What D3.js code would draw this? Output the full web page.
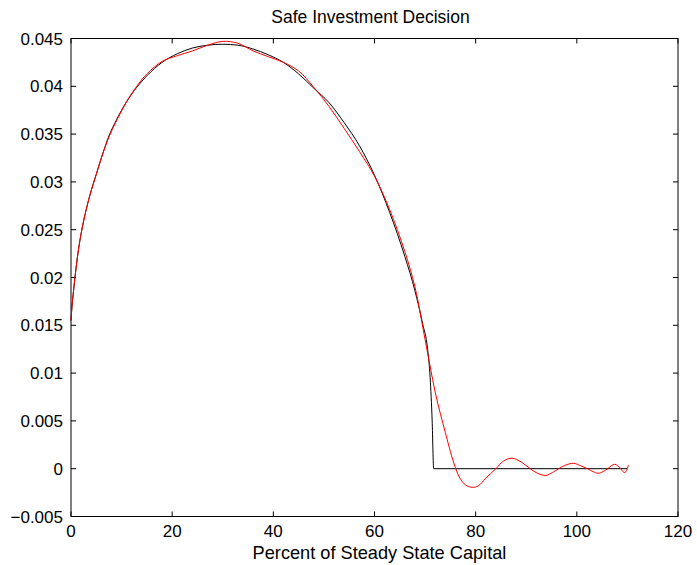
<!DOCTYPE html>
<html>
<head>
<meta charset="utf-8">
<script src="https://cdn.jsdelivr.net/npm/d3@7"></script>
<style>
  body { margin: 0; background: #fff; }
  text { font-family: "Liberation Sans", Arial, sans-serif; fill: #000; }
</style>
</head>
<body>
<div id="chart"></div>
<script>
const xTicks = [0, 20, 40, 60, 80, 100, 120];
const yTicks = [-0.005, 0, 0.005, 0.01, 0.015, 0.02, 0.025, 0.03, 0.035, 0.04, 0.045];

// smooth policy (black)
const smoothX = [0, 0.2, 0.5, 1, 1.5, 2, 3, 4, 5, 6, 7.5, 9, 11, 13, 15, 18, 21, 24, 27, 30, 33, 36, 39, 42, 45, 48, 51, 54, 57, 60, 63, 66, 68, 69.5, 70.5, 71, 71.4, 71.7, 110];
const smoothY = [0.0155, 0.0170, 0.0186, 0.0210, 0.0230, 0.0246, 0.0271, 0.0291, 0.0308, 0.0325, 0.0348, 0.0365, 0.0384, 0.0399, 0.0411, 0.0425, 0.0434, 0.0440, 0.0443, 0.0444, 0.0443, 0.0439, 0.0433, 0.0425, 0.0413, 0.0398, 0.0383, 0.0362, 0.0338, 0.0307, 0.0268, 0.0222, 0.0186, 0.0152, 0.0125, 0.0095, 0.0050, 0, 0];

// approximation (red)
const approxX = [0, 0.2, 0.5, 1, 1.5, 2, 3, 4, 5, 6, 7.5, 9, 11, 13, 15, 18, 21, 24, 27, 30, 33, 36, 39, 42, 45, 48, 51, 54, 57, 60, 63, 66, 68, 70, 71, 72, 73, 74, 75, 76, 77, 78, 79.3, 80.5, 82, 84, 85.5, 87.2, 89, 90.8, 92.3, 93.9, 95.2, 96.4, 97.9, 99.4, 100.8, 102.1, 103.2, 104.2, 105.2, 106.1, 106.8, 107.5, 108.1, 108.7, 109.1, 109.5, 109.9, 110.2];
const approxY = [0.0155, 0.0170, 0.0186, 0.0210, 0.0230, 0.0246, 0.0271, 0.0291, 0.0308, 0.0325, 0.0347, 0.0364, 0.0384, 0.0400, 0.0413, 0.0426, 0.0432, 0.0437, 0.0443, 0.0447, 0.0445, 0.0437, 0.0431, 0.0425, 0.0416, 0.0399, 0.0379, 0.0356, 0.0332, 0.0306, 0.0271, 0.0227, 0.0190, 0.0135, 0.0107, 0.0080, 0.0058, 0.0038, 0.0018, 0.0001, -0.0011, -0.0017, -0.00195, -0.0018, -0.0010, 0.0000, 0.0008, 0.0011, 0.0007, 0, -0.0005, -0.0007, -0.0004, 0, 0.0004, 0.00056, 0.0003, 0, -0.0003, -0.00048, -0.0003, 0, 0.0003, 0.00046, 0.0003, 0, -0.0003, -0.0004, -0.0001, 0.0004];

const width = 697, height = 565;
const margin = { top: 38.5, right: 19, bottom: 48.5, left: 71 };
const tickLen = 5;

const svg = d3.select("#chart").append("svg")
	.attr("width", width)
	.attr("height", height);

const x = d3.scaleLinear().domain([0, 120]).range([margin.left, width - margin.right]);
const y = d3.scaleLinear().domain([-0.005, 0.045]).range([height - margin.bottom, margin.top]);

const fmt = (d) => d === 0 ? "0" : (d < 0 ? "\u2212" + String(-d) : String(d));

// box
svg.append("rect")
	.attr("x", x(0)).attr("y", y(0.045))
	.attr("width", x(120) - x(0)).attr("height", y(-0.005) - y(0.045))
	.attr("fill", "none").attr("stroke", "#000").attr("stroke-width", 1);

const ticks = svg.append("g").attr("stroke", "#000").attr("stroke-width", 1);
xTicks.forEach((d) => {
	ticks.append("line").attr("x1", x(d)).attr("x2", x(d)).attr("y1", y(-0.005)).attr("y2", y(-0.005) - tickLen);
	ticks.append("line").attr("x1", x(d)).attr("x2", x(d)).attr("y1", y(0.045)).attr("y2", y(0.045) + tickLen);
});
yTicks.forEach((d) => {
	ticks.append("line").attr("x1", x(0)).attr("x2", x(0) + tickLen).attr("y1", y(d)).attr("y2", y(d));
	ticks.append("line").attr("x1", x(120)).attr("x2", x(120) - tickLen).attr("y1", y(d)).attr("y2", y(d));
});

svg.append("g").selectAll("text")
	.data(xTicks).enter()
	.append("text")
		.attr("x", (d) => x(d))
		.attr("y", y(-0.005) + 20)
		.attr("text-anchor", "middle")
		.attr("font-size", 17)
		.text(fmt);

svg.append("g").selectAll("text")
	.data(yTicks).enter()
	.append("text")
		.attr("x", x(0) - 8)
		.attr("y", (d) => y(d) + 6)
		.attr("text-anchor", "end")
		.attr("font-size", 17)
		.text(fmt);

svg.append("text")
	.attr("x", (x(0) + x(120)) / 2 - 4)
	.attr("y", 23)
	.attr("text-anchor", "middle")
	.attr("font-size", 17.5)
	.text("Safe Investment Decision");

svg.append("text")
	.attr("x", (x(0) + x(120)) / 2 + 5)
	.attr("y", height - 6)
	.attr("text-anchor", "middle")
	.attr("font-size", 18.2)
	.text("Percent of Steady State Capital");

const smooth = d3.line()
	.x((d, i) => x(smoothX[i]))
	.y((d) => y(d))
	.curve(d3.curveMonotoneX);

const approx = d3.line()
	.x((d, i) => x(approxX[i]))
	.y((d) => y(d))
	.curve(d3.curveCatmullRom.alpha(0.5));

svg.append("path")
	.attr("d", smooth(smoothY))
	.attr("fill", "none").attr("stroke", "#000").attr("stroke-width", 1);

svg.append("path")
	.attr("d", approx(approxY))
	.attr("fill", "none").attr("stroke", "#f00").attr("stroke-width", 1);
</script>
</body>
</html>
